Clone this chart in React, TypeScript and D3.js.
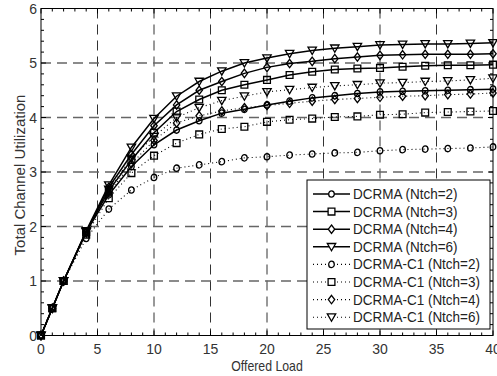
import React from 'react';
import * as d3 from 'd3';

const loads = [0, 1, 2, 4, 6, 8, 10, 12, 14, 16, 18, 20, 22, 24, 26, 28, 30, 32, 34, 36, 38, 40];

const dcrmaN2 = [0, 0.5, 1.0, 1.9, 2.58, 3.10, 3.50, 3.77, 3.94, 4.08, 4.15, 4.23, 4.30, 4.36, 4.40, 4.44, 4.47, 4.48, 4.49, 4.50, 4.51, 4.52];
const dcrmaN3 = [0, 0.5, 1.0, 1.9, 2.66, 3.22, 3.72, 4.11, 4.33, 4.50, 4.60, 4.69, 4.78, 4.84, 4.88, 4.90, 4.91, 4.93, 4.95, 4.96, 4.96, 4.97];
const dcrmaN4 = [0, 0.5, 1.0, 1.9, 2.72, 3.32, 3.85, 4.23, 4.50, 4.66, 4.81, 4.92, 4.99, 5.03, 5.08, 5.11, 5.14, 5.15, 5.16, 5.16, 5.16, 5.17];
const dcrmaN6 = [0, 0.5, 1.0, 1.92, 2.76, 3.45, 3.98, 4.39, 4.66, 4.85, 5.00, 5.09, 5.17, 5.23, 5.27, 5.30, 5.33, 5.34, 5.35, 5.35, 5.36, 5.37];
const c1N2 = [0, 0.5, 1.0, 1.78, 2.32, 2.67, 2.90, 3.07, 3.13, 3.19, 3.26, 3.28, 3.31, 3.33, 3.35, 3.36, 3.39, 3.41, 3.42, 3.43, 3.44, 3.46];
const c1N3 = [0, 0.5, 1.0, 1.85, 2.52, 2.98, 3.30, 3.53, 3.69, 3.79, 3.83, 3.92, 3.96, 3.98, 4.01, 4.02, 4.05, 4.06, 4.09, 4.10, 4.11, 4.12];
const c1N4 = [0, 0.5, 1.0, 1.88, 2.62, 3.15, 3.58, 3.90, 4.03, 4.12, 4.18, 4.22, 4.26, 4.30, 4.33, 4.35, 4.37, 4.39, 4.40, 4.42, 4.43, 4.45];
const c1N6 = [0, 0.5, 1.0, 1.9, 2.68, 3.25, 3.65, 4.00, 4.18, 4.31, 4.39, 4.47, 4.51, 4.55, 4.58, 4.60, 4.63, 4.64, 4.66, 4.67, 4.69, 4.72];

const seriesNames = [
  'DCRMA (Ntch=2)', 'DCRMA (Ntch=3)', 'DCRMA (Ntch=4)', 'DCRMA (Ntch=6)',
  'DCRMA-C1 (Ntch=2)', 'DCRMA-C1 (Ntch=3)', 'DCRMA-C1 (Ntch=4)', 'DCRMA-C1 (Ntch=6)',
];
const seriesValues = [dcrmaN2, dcrmaN3, dcrmaN4, dcrmaN6, c1N2, c1N3, c1N4, c1N6];
const seriesMarkers = ['circle', 'square', 'diamond', 'triangle', 'circle', 'square', 'diamond', 'triangle'];
const seriesDotted = [false, false, false, false, true, true, true, true];

const xTicks = [0, 5, 10, 15, 20, 25, 30, 35, 40];
const yTicks = [0, 1, 2, 3, 4, 5, 6];

const W = 497;
const H = 376;
const L = 41, R = 493, T = 8.5, B = 335.5;

function markerPath(kind: string): string {
  switch (kind) {
    case 'circle':
      return 'M-2.8,0A2.8,3.2 0 1,0 2.8,0A2.8,3.2 0 1,0 -2.8,0Z';
    case 'square':
      return 'M-3.4,-3.4L3.4,-3.4L3.4,3.4L-3.4,3.4Z';
    case 'diamond':
      return 'M0,-4.2L3.2,0L0,4.2L-3.2,0Z';
    case 'triangle':
      return 'M-4.2,-3.3L4.2,-3.3L0,4.0Z';
  }
  return '';
}

const FONT = '"Liberation Sans", Arial, sans-serif';

export default function App() {
  const x = d3.scaleLinear().domain([0, 40]).range([L, R]);
  const y = d3.scaleLinear().domain([0, 6]).range([B, T]);
  const line = d3.line<number>().x((_, i) => x(loads[i])).y((d) => y(d));

  const xMinor = d3.range(0, 41, 1);
  const yMinor = d3.range(0, 6.001, 0.2);

  const legX = 307, legY = 180, legW = 183, legH = 149;
  const legRow0 = 194, legStep = 17.6;

  return (
    <svg width={W} height={H} style={{ position: 'fixed', left: 0, top: 0, background: '#fff' }} fontFamily={FONT}>
      <rect x={0} y={0} width={W} height={H} fill="#fff" />
      {/* grid */}
      {xTicks.filter((t) => t > 0 && t < 40).map((t) => (
        <line key={'gx' + t} x1={x(t)} x2={x(t)} y1={T} y2={B} stroke="#333" strokeWidth={1} strokeDasharray="10,6" />
      ))}
      {yTicks.filter((t) => t > 0 && t < 6).map((t) => (
        <line key={'gy' + t} x1={L} x2={R} y1={y(t)} y2={y(t)} stroke="#666" strokeWidth={1.6} strokeDasharray="10,6" />
      ))}
      {/* minor ticks */}
      {xMinor.map((t) => {
        const len = t % 5 === 0 ? 5 : 3;
        return (
          <g key={'xm' + t}>
            <line x1={x(t)} x2={x(t)} y1={B} y2={B - len} stroke="#000" strokeWidth={1} />
            <line x1={x(t)} x2={x(t)} y1={T} y2={T + len} stroke="#000" strokeWidth={1} />
          </g>
        );
      })}
      {yMinor.map((t, i) => {
        const len = i % 5 === 0 ? 5 : 3;
        return (
          <g key={'ym' + i}>
            <line x1={L} x2={L + len} y1={y(t)} y2={y(t)} stroke="#000" strokeWidth={1} />
            <line x1={R} x2={R - len} y1={y(t)} y2={y(t)} stroke="#000" strokeWidth={1} />
          </g>
        );
      })}
      {/* box */}
      <rect x={L} y={T} width={R - L} height={B - T} fill="none" stroke="#000" strokeWidth={1} />
      {/* tick labels */}
      {xTicks.map((t) => (
        <text key={'xl' + t} x={x(t)} y={353.5} textAnchor="middle" fontSize={14} fill="#333">{t}</text>
      ))}
      {yTicks.map((t) => (
        <text key={'yl' + t} x={37} y={y(t) + 5} textAnchor="end" fontSize={14} fill="#333">{t}</text>
      ))}
      <text transform={`translate(${(L + R) / 2},370.5) scale(0.88,1)`} textAnchor="middle" fontSize={14} fill="#333">Offered Load</text>
      <text transform={`translate(25,${(T + B) / 2 + 3}) rotate(-90)`} textAnchor="middle" fontSize={15} fill="#333">Total Channel Utilization</text>
      {/* series */}
      {seriesValues.map((vals, si) => (
        <g key={'s' + si}>
          <path d={line(vals) || ''} fill="none" stroke="#000"
            strokeWidth={seriesDotted[si] ? 1.1 : 1.5}
            strokeDasharray={seriesDotted[si] ? '1,3' : undefined} />
          {vals.map((v, i) => (
            <path key={i} d={markerPath(seriesMarkers[si])}
              transform={`translate(${x(loads[i])},${y(v)})`}
              fill="none" stroke="#000" strokeWidth={1.3} />
          ))}
        </g>
      ))}
      {/* legend */}
      <rect x={legX} y={legY} width={legW} height={legH} fill="#fff" stroke="#000" strokeWidth={1} />
      {seriesNames.map((name, i) => {
        const yy = legRow0 + i * legStep;
        return (
          <g key={'lg' + i}>
            <line x1={313} x2={350} y1={yy} y2={yy} stroke="#000"
              strokeWidth={seriesDotted[i] ? 1.1 : 1.5}
              strokeDasharray={seriesDotted[i] ? '1,3' : undefined} />
            <path d={markerPath(seriesMarkers[i])} transform={`translate(331.5,${yy})`} fill="#fff" stroke="#000" strokeWidth={1.3} />
            <text transform={`translate(353,${yy + 5}) scale(0.9,1)`} fontSize={15} fill="#222">{name}</text>
          </g>
        );
      })}
    </svg>
  );
}
